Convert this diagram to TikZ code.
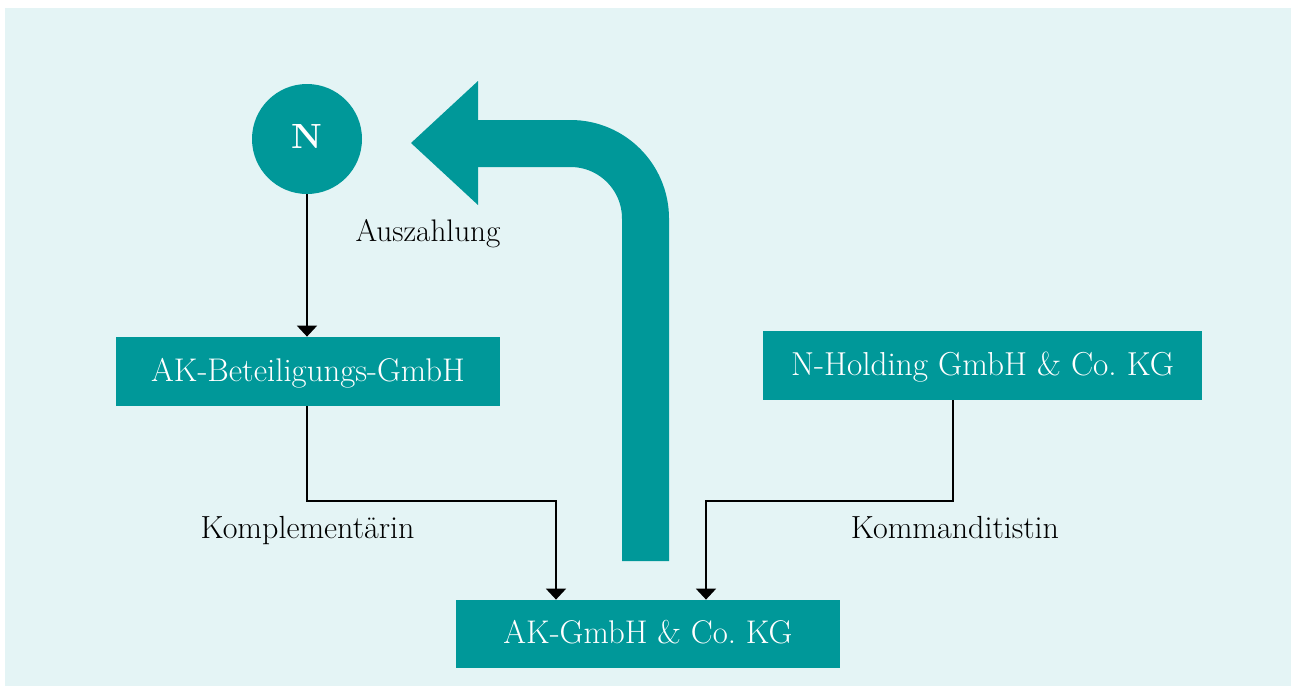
\documentclass[tikz,border=0pt]{standalone}
\usetikzlibrary{arrows.meta}
\definecolor{teal1}{RGB}{0,152,153}
\definecolor{bgc}{RGB}{228,244,245}
\tikzset{
  box/.style={fill=teal1, text=white, inner sep=0pt, font=\fontsize{16.4}{19}\selectfont, text height=0.683em+3pt, text depth=0pt},
  lbl/.style={text=black, inner sep=0pt, font=\fontsize{16}{19}\selectfont, text height=0.683em, text depth=0pt},
  conn/.style={line width=1pt, -{Triangle[width=10pt,length=5.5pt]}},
}
\begin{document}
\begin{tikzpicture}[x=0.5pt,y=-0.5pt]
\useasboundingbox (0,0) rectangle (1296,686);
\fill[bgc] (5,8) rectangle (1291,686);
% boxes
\node[box, minimum width=192pt, minimum height=34.5pt] (akb) at (308,371.5) {AK-Beteiligungs-GmbH};
\node[box, minimum width=219.5pt, minimum height=34.5pt, font=\fontsize{16.6}{19}\selectfont] (nh) at (982.5,365.5) {N-Holding GmbH \& Co.\ KG};
\node[box, minimum width=192pt, minimum height=34pt] (ak) at (648,634) {AK-GmbH \& Co.\ KG};
\node[circle, fill=teal1, text=white, minimum size=55pt, inner sep=0pt, font=\fontsize{17.5}{20}\selectfont\bfseries, text height=0.686em+3pt, text depth=0pt] (n) at (307,139) {N};
% labels
\node[lbl, font=\fontsize{16}{19}\selectfont] (lk) at (307.5,532) {Komplementärin};
\node[lbl, font=\fontsize{16}{19}\selectfont] (lkd) at (955,532) {Kommanditistin};
\node[lbl, font=\fontsize{15.6}{19}\selectfont] (la) at (428,235) {Auszahlung};
% connectors
\coordinate (c1) at (307,501);
\coordinate (c2) at (556,501);
\coordinate (c3) at (953,501);
\coordinate (c4) at (706,501);
\draw[conn] (n.south) -- (akb.north -| n.south);
\draw[conn] (akb.south -| c1) -- (c1) -- (c2) -- (c2 |- ak.north);
\draw[conn] (c3 |- nh.south) -- (c3) -- (c4) -- (c4 |- ak.north);
% big arrow
\coordinate (b0) at (645.5,561);
\coordinate (b1) at (645.5,143.5);
\coordinate (b2) at (477,143.5);
\draw[teal1, line width=23.5pt, rounded corners=37.5pt] (b0) -- (b1) -- (b2);
\fill[teal1] (478,81) -- (411,143) -- (478,205) -- cycle;
\end{tikzpicture}
\end{document}
